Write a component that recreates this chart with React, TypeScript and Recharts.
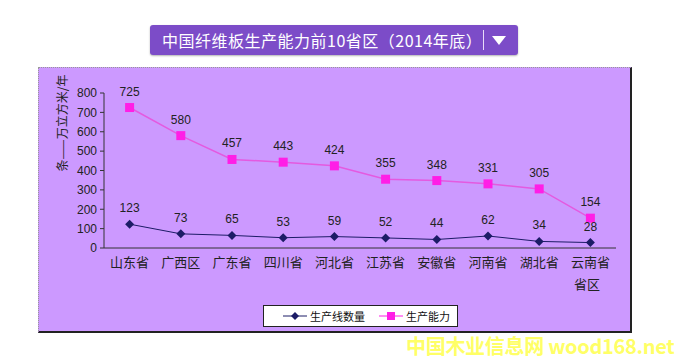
import React from 'react';
import {
  LineChart, Line, XAxis, YAxis, LabelList, Legend, Label,
} from 'recharts';

const provinces = ['山东省', '广西区', '广东省', '四川省', '河北省', '江苏省', '安徽省', '河南省', '湖北省', '云南省'];
const lineCounts = [123, 73, 65, 53, 59, 52, 44, 62, 34, 28];
const capacity = [725, 580, 457, 443, 424, 355, 348, 331, 305, 154];
const yTicks = [0, 100, 200, 300, 400, 500, 600, 700, 800];
const dividerTicks = [1, 2, 3, 4, 5, 6, 7, 8, 9];

const data = provinces.map((name, i) => ({ name, lines: lineCounts[i], capacity: capacity[i] }));

const NAVY = '#1c1c66';
const MAGENTA = '#ff1ee6';
const BG = '#cc99ff';
const FONT = '"Noto Sans CJK SC", "Liberation Sans", sans-serif';
const NUM_FONT = '"Liberation Sans", sans-serif';

const diamond = (cx: number, cy: number, r: number) =>
  `${cx},${cy - r} ${cx + r},${cy} ${cx},${cy + r} ${cx - r},${cy}`;

const DiamondDot = (p: any) => (
  <polygon key={p.index} points={diamond(p.cx, p.cy, 4.5)} fill={NAVY} />
);
const SquareDot = (p: any) => (
  <rect key={p.index} x={p.cx - 4.5} y={p.cy - 4.5} width={9} height={9} fill={MAGENTA} />
);

function LegendBox() {
  return (
    <div style={{
      width: 193, height: 20, background: '#fff', border: '1px solid #222', whiteSpace: 'nowrap',
      display: 'flex', alignItems: 'center', fontSize: 11, fontFamily: FONT, color: '#111',
    }}>
      <svg width={24} height={20} style={{ marginLeft: 19, flexShrink: 0 }}>
        <line x1={0} y1={10} x2={24} y2={10} stroke={NAVY} strokeWidth={1} />
        <polygon points={diamond(12, 10, 4)} fill={NAVY} />
      </svg>
      <span style={{ marginLeft: 3 }}>生产线数量</span>
      <svg width={24} height={20} style={{ marginLeft: 14, flexShrink: 0 }}>
        <line x1={0} y1={10} x2={24} y2={10} stroke={MAGENTA} strokeWidth={1} />
        <rect x={8} y={6} width={8} height={8} fill={MAGENTA} />
      </svg>
      <span style={{ marginLeft: 3 }}>生产能力</span>
    </div>
  );
}

export default function App() {
  return (
    <div style={{ position: 'absolute', left: 0, top: 0, width: 677, height: 363, background: '#fff', overflow: 'hidden' }}>
      <div style={{
        position: 'absolute', left: 150, top: 25, width: 368, height: 30, background: '#7c4cc8',
        borderRadius: 3, boxShadow: '0 1px 2px rgba(0,0,0,0.3)', color: '#fff', fontFamily: FONT,
        fontSize: 16, lineHeight: '30px', boxSizing: 'border-box', paddingLeft: 12, letterSpacing: 0.5,
      }}>
        中国纤维板生产能力前10省区（2014年底）
        <div style={{ position: 'absolute', left: 333, top: 5, width: 1, height: 20, background: '#e8dcf8' }} />
        <svg width={16} height={12} style={{ position: 'absolute', left: 342, top: 10 }}>
          <polygon points="0,1 14,1 7,10" fill="#fff" />
        </svg>
      </div>

      <div style={{
        position: 'absolute', left: 38, top: 67, width: 594, height: 266, background: BG,
        borderTop: '1px dotted #999', borderLeft: '1px dotted #999',
        borderRight: '2px solid #222', borderBottom: '2px solid #222', boxSizing: 'border-box',
      }}>
        <LineChart width={591} height={263} data={data} margin={{ top: 25, right: 14, bottom: 26, left: 0 }}>
          <XAxis xAxisId="div" type="number" domain={[0, 10]} ticks={dividerTicks} height={0}
            axisLine={false} tick={false} mirror tickSize={4} tickLine={{ stroke: '#333' }} />
          <XAxis dataKey="name" height={57} axisLine={{ stroke: '#333' }} tickLine={false} tickSize={0}
            padding={{ left: 25.6, right: 25.6 }}
            tickMargin={10} interval={0} tick={{ fontSize: 13, fill: '#222', fontFamily: FONT }}>
            <Label value="省区" position="insideBottomRight" offset={16} fontSize={13} fill="#222" fontFamily={FONT} />
          </XAxis>
          <YAxis width={65} domain={[0, 800]} ticks={yTicks} interval={0} axisLine={{ stroke: '#333' }}
            tickLine={{ stroke: '#333' }} tickSize={4} tickMargin={3}
            tick={{ fontSize: 12, fill: '#222', fontFamily: NUM_FONT }}>
            <Label content={({ viewBox }: any) => (
              <text x={viewBox.x + 22} y={viewBox.y + 30} transform={`rotate(-90 ${viewBox.x + 22} ${viewBox.y + 30})`}
                textAnchor="middle" dominantBaseline="central" fontSize={12} fill="#222" fontFamily={FONT}>
                条——万立方米/年
              </text>
            )} />
          </YAxis>
          <Legend layout="horizontal" verticalAlign="middle" align="center"
            wrapperStyle={{ left: 224, top: 237, width: 195, height: 22 }} content={() => <LegendBox />} />
          <Line dataKey="lines" name="生产线数量" stroke={NAVY} strokeWidth={1} dot={DiamondDot} isAnimationActive={false}>
            <LabelList dataKey="lines" position="top" offset={12} fontSize={12} fill="#222" fontFamily={NUM_FONT} />
          </Line>
          <Line dataKey="capacity" name="生产能力" stroke="#e45ae0" strokeWidth={1.5} dot={SquareDot} isAnimationActive={false}>
            <LabelList dataKey="capacity" position="top" offset={12} fontSize={12} fill="#222" fontFamily={NUM_FONT} />
          </Line>
        </LineChart>
      </div>

      <div style={{
        position: 'absolute', left: 406, top: 333, fontSize: 20, fontWeight: 'bold', color: '#ffff66',
        fontFamily: FONT, letterSpacing: -0.3, whiteSpace: 'nowrap', lineHeight: '26px',
      }}>
        中国木业信息网 wood168.net
      </div>
    </div>
  );
}
